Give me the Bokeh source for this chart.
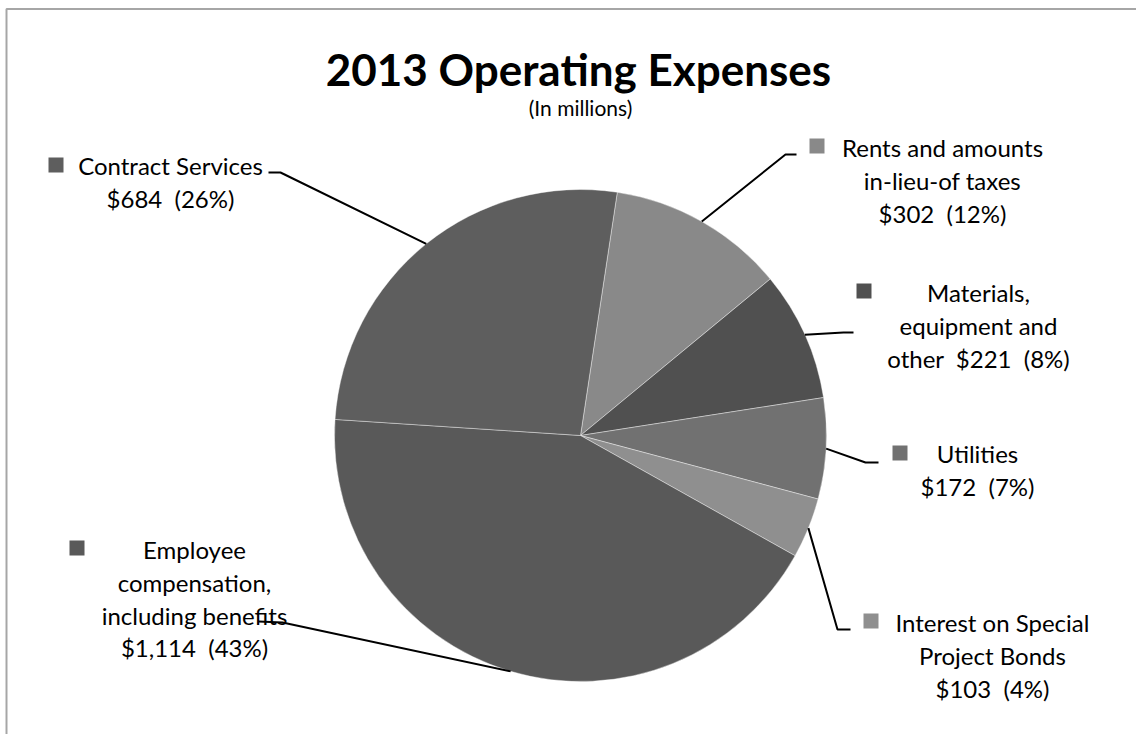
import numpy as np
from bokeh.plotting import figure
from bokeh.models import Range1d, ColumnDataSource
from bokeh.core.properties import value
from bokeh.embed import file_html
from bokeh.resources import INLINE

# ---------------- data ----------------
title_text = "2013 Operating Expenses"
subtitle_text = "(In millions)"
categories = ["Rents and amounts in-lieu-of taxes", "Materials, equipment and other",
              "Utilities", "Interest on Special Project Bonds",
              "Employee compensation, including benefits", "Contract Services"]
amounts = [302, 221, 172, 103, 1114, 684]
percents = [12, 8, 7, 4, 43, 26]
name_lines = [["Rents and amounts", "in-lieu-of taxes"],
              ["Materials,", "equipment and", "other"],
              ["Utilities"],
              ["Interest on Special", "Project Bonds"],
              ["Employee", "compensation,", "including benefits"],
              ["Contract Services"]]
colors = ["#898989", "#505050", "#717171", "#8f8f8f", "#595959", "#5e5e5e"]

# ---------------- layout (page pixels) ----------------
W, H = 1136, 734
def X(px): return px
def Y(py): return H - py

CX, CY, R = 580, 435, 246
START_DEG = 8.6
value_inline = [False, True, False, False, False, False]
label_cx = [942, 978, 977, 992, 194, 170]
label_y0 = [147, 292, 453, 622, 549, 165]
line_step = 32.8
square_c = [(816.5, 145.5), (863.5, 290.5), (899.5, 452.5), (870.5, 620.5), (76.5, 547.5), (55.5, 164.5)]
leader_pts = [[(785, 154), (796, 154)], [(843, 332), (853, 332)], [(865, 462), (878, 462)],
              [(837, 629), (850, 629)], [(282, 622), (258, 621)], [(280, 172), (268, 172)]]
FONT = "Lato"
LABEL_SIZE = "24px"
SEP = "\u00a0 "

p = figure(width=W, height=H, x_range=Range1d(0, W), y_range=Range1d(0, H),
           output_backend="svg", toolbar_location=None, min_border=0,
           x_axis_type=None, y_axis_type=None)
p.grid.visible = False
p.outline_line_color = None
p.background_fill_color = "white"
p.border_fill_color = "white"

# border (left and top visible in reference)
p.line(x=[X(6), X(6), W], y=[0, Y(8.5), Y(8.5)], line_color="#a6a6a6", line_width=2)

# pie
total = float(sum(amounts))
cum = np.cumsum([0] + amounts)
th1 = START_DEG + cum[:-1] / total * 360.0
th2 = START_DEG + cum[1:] / total * 360.0
src = ColumnDataSource(dict(
    start=np.radians(90 - th2), end=np.radians(90 - th1), color=colors))
p.wedge(x=X(CX), y=Y(CY), radius=R, start_angle="start", end_angle="end",
        fill_color="color", line_color="white", line_alpha=0.5, line_width=0.8, source=src)

# leader lines
mid = np.radians((th1 + th2) / 2)
xs, ys = [], []
for i, m in enumerate(mid):
    ex = CX + R * np.sin(m)
    ey = CY - R * np.cos(m)
    pts = [(ex, ey)] + leader_pts[i]
    xs.append([X(a) for a, b in pts])
    ys.append([Y(b) for a, b in pts])
p.multi_line(xs=xs, ys=ys, line_color="black", line_width=2)

# legend squares
p.rect(x=[X(a) for a, b in square_c], y=[Y(b) for a, b in square_c], width=15, height=15,
       fill_color=colors, line_color=None)

# labels
tx, ty, tt = [], [], []
for i in range(len(categories)):
    val = f"${amounts[i]:,}{SEP}({percents[i]}%)"
    lines = list(name_lines[i])
    if value_inline[i]:
        lines[-1] = lines[-1] + SEP + val
    else:
        lines.append(val)
    for k, ln in enumerate(lines):
        tx.append(X(label_cx[i]))
        ty.append(Y(label_y0[i] + k * line_step))
        tt.append(ln)
p.text(x=tx, y=ty, text=tt, text_font=value(FONT), text_font_size=LABEL_SIZE,
       text_align="center", text_baseline="middle", text_color="black")

# titles
p.text(x=[X(578)], y=[Y(68)], text=[title_text], text_font=value(FONT),
       text_font_size="44px", text_font_style="bold", text_align="center",
       text_baseline="middle", text_color="black")
p.text(x=[X(580)], y=[Y(107)], text=[subtitle_text], text_font=value(FONT),
       text_font_size="21px", text_align="center", text_baseline="middle", text_color="black")

open("out.html", "w").write(file_html(p, INLINE))
